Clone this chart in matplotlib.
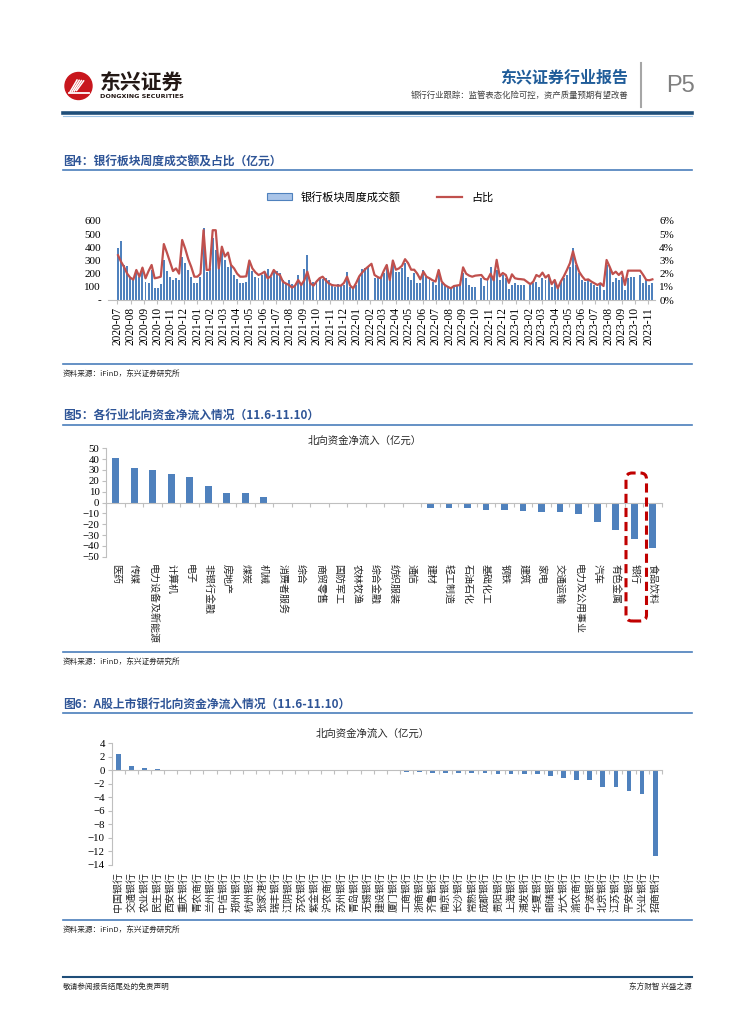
import numpy as np
import pandas as pd
import matplotlib
matplotlib.use('Agg')
import matplotlib.pyplot as plt
import matplotlib.dates as mdates
from matplotlib.patches import Patch, Circle, FancyBboxPatch
from matplotlib.lines import Line2D
from matplotlib.ticker import FuncFormatter

CJK = ['Noto Sans CJK SC', 'DejaVu Sans']
SERIF = ['Liberation Serif', 'Noto Sans CJK SC']
plt.rcParams['font.family'] = CJK

# ---------------- data ----------------
# fig 4: weekly bank-sector turnover (亿元) and share of market (%), weeks from 2020-07-03
nan = np.nan
turnover = [
    392, 448, 265, 260, 177, 152, 228, 177, 240, 139,
    132, 228, 88, 88, 119, 304, 223, 177, 152, 170,
    152, 329, 278, 228, 177, 132, 132, 177, 544, 215,
    245, 473, 380, 291, 367, 304, 253, 265, 190, 160,
    127, 127, 139, 278, 223, 177, 165, 190, 215, 235,
    177, 215, 223, 202, 152, 127, 152, 121, 106, 190,
    127, 235, 342, 152, 139, 139, 165, 157, 170, 152,
    114, 101, 121, 114, 114, 215, 101, 88, 114, 177,
    233, 245, 248, nan, 165, 165, 165, 202, 265, 152,
    291, 215, 215, 240, 278, 177, 152, 202, 127, 127,
    228, 177, 165, 140, 114, 228, 127, 114, 101, 88,
    101, 114, 114, 202, 165, 114, 101, 95, nan, 165,
    109, 152, 253, 165, 228, 152, 190, 165, 80, 114,
    127, 114, 114, 114, nan, 114, 127, 140, 101, 165,
    152, 177, 101, 152, 88, 140, 165, 190, 253, 392,
    265, 202, 152, 140, 152, 127, 114, 101, 127, 76,
    265, 240, 140, 165, 152, 177, 76, 165, 177, 177,
    nan, 190, 127, 152, 114, 127,
]
share = [
    3.4, 2.9, 2.5, 2.0, 1.7, 1.55, 2.28, 1.77, 2.46, 1.65,
    2.2, 2.66, 1.65, 1.7, 1.77, 4.25, 3.6, 2.9, 2.2, 2.4,
    2.0, 4.56, 3.9, 3.1, 2.5, 1.77, 1.77, 2.0, 5.3, 2.28,
    2.3, 5.3, 5.3, 2.4, 4.05, 3.3, 3.6, 2.66, 2.4, 2.0,
    1.77, 1.77, 1.8, 3.0, 2.4, 2.1, 1.9, 2.0, 2.15, 1.65,
    1.8, 2.28, 2.0, 1.9, 1.39, 1.25, 1.14, 0.94, 1.1, 1.52,
    1.14, 1.5, 2.15, 1.27, 1.09, 1.4, 1.65, 1.77, 1.5, 1.27,
    1.14, 1.1, 1.1, 1.09, 1.3, 1.77, 1.1, 0.89, 1.3, 1.8,
    2.1, 2.35, 2.55, 2.75, 1.9, 1.75, 1.65, 2.2, 2.66, 1.52,
    3.0, 2.3, 2.4, 2.6, 3.1, 2.8, 2.3, 2.3, 2.0, 1.57,
    2.15, 1.77, 1.65, 1.5, 1.4, 2.28, 1.4, 1.14, 1.0, 0.89,
    1.06, 1.1, 1.14, 2.48, 2.0, 1.85, 1.77, 1.85, nan, 1.9,
    1.6, 1.55, 2.0, 1.5, 3.05, 1.8, 2.05, 1.9, 1.3, 1.95,
    1.65, 1.6, 1.58, 1.55, nan, 1.2, 1.4, 1.9, 1.77, 2.08,
    1.7, 1.9, 1.2, 1.52, 0.89, 1.4, 1.8, 2.28, 2.8, 3.7,
    2.8, 2.15, 1.8, 1.52, 1.57, 1.4, 1.27, 1.14, 1.27, 1.06,
    3.04, 2.53, 1.97, 2.15, 1.9, 2.15, 1.14, 2.23, 2.23, 2.23,
    nan, 2.23, 1.9, 1.52, 1.5, 1.57,
]

# fig 5: northbound net inflow by industry (亿元)
industries = ['医药', '传媒', '电力设备及新能源', '计算机', '电子', '非银行金融', '房地产', '煤炭',
              '机械', '消费者服务', '综合', '商贸零售', '国防军工', '农林牧渔', '综合金融', '纺织服装',
              '通信', '建材', '轻工制造', '石油石化', '基础化工', '钢铁', '建筑', '家电', '交通运输',
              '电力及公用事业', '汽车', '有色金属', '银行', '食品饮料']
ind_flow = [40.6, 31.6, 30.0, 26.3, 23.8, 15.6, 9.0, 8.4, 5.0, -0.2, -0.2, -1.0, -1.0, -1.0, -1.0,
            -1.0, -0.6, -5.3, -5.3, -5.3, -6.5, -7.2, -8.1, -9.0, -9.0, -11.0, -18.0, -25.0,
            -33.8, -42.0]

# fig 6: northbound net inflow by listed bank (亿元)
banks = ['中国银行', '交通银行', '农业银行', '民生银行', '西安银行', '重庆银行', '青农商行', '兰州银行',
         '中信银行', '郑州银行', '杭州银行', '张家港行', '瑞丰银行', '江阴银行', '苏农银行', '紫金银行',
         '沪农商行', '苏州银行', '青岛银行', '无锡银行', '建设银行', '厦门银行', '工商银行', '浙商银行',
         '齐鲁银行', '南京银行', '长沙银行', '常熟银行', '成都银行', '贵阳银行', '上海银行', '浦发银行',
         '华夏银行', '邮储银行', '光大银行', '渝农商行', '宁波银行', '北京银行', '江苏银行', '平安银行',
         '兴业银行', '招商银行']
bank_flow = [2.4, 0.6, 0.4, 0.15, 0.12, -0.02, -0.03, -0.03, -0.04, -0.04, -0.05, -0.05, -0.05,
             -0.06, -0.06, -0.07, -0.08, -0.12, -0.15, -0.15, -0.15, -0.15, -0.2, -0.3, -0.35, -0.35,
             -0.35, -0.45, -0.45, -0.6, -0.6, -0.6, -0.6, -0.85, -1.1, -1.5, -1.5, -2.5, -2.5, -3.1,
             -3.45, -12.6]

# ---------------- page ----------------
W, H = 755, 1024
fig = plt.figure(figsize=(W / 100, H / 100), dpi=100)
BLUE = '#4F81BD'
TITLE_BLUE = '#2F5597'
RULE = '#4A7EBB'


def fx(x):
    return x / W


def fy(y):
    return 1 - y / H


def px_axes(x0, y0, x1, y1):
    return fig.add_axes([fx(x0), fy(y1), (x1 - x0) / W, (y1 - y0) / H])


def hline(y, x0, x1, color=RULE, lw=1.2):
    fig.add_artist(Line2D([fx(x0), fx(x1)], [fy(y), fy(y)], color=color, lw=lw))


# header
logo = px_axes(63, 70, 95, 102)
logo.set_xlim(0, 32)
logo.set_ylim(0, 32)
logo.axis('off')
logo.add_patch(Circle((15.5, 16), 13.5, color='#C8161D'))
for k in range(4):
    logo.plot([7 + 2.2 * k, 14 + 2.2 * k], [10 + k * 0.5, 22 - k * 0.3], color='white', lw=1.1)
logo.plot([6, 26], [9, 9], color='white', lw=1.3)
fig.text(fx(100), fy(82), '东兴证券', fontsize=15, fontweight='bold', color='#231815', va='center')
fig.text(fx(100), fy(97), 'DONGXING SECURITIES', fontsize=4.6, fontweight='bold', color='#231815',
         va='center', family=['DejaVu Sans'])
fig.text(fx(628), fy(77), '东兴证券行业报告', fontsize=11.5, fontweight='bold', color='#1F5C99',
         ha='right', va='center')
fig.text(fx(628), fy(95), '银行行业跟踪：监管表态化险可控，资产质量预期有望改善', fontsize=6,
         color='#404040', ha='right', va='center')
fig.add_artist(Line2D([fx(641), fx(641)], [fy(63), fy(107)], color='#A6A6A6', lw=1.5))
fig.text(fx(680), fy(86), 'P5', fontsize=17, color='#7F7F7F', ha='center', va='center',
         family=['Liberation Sans'])
hline(113, 63, 692, color='#1F4E79', lw=2.6)
hline(115.5, 63, 692, color='#9DC3E6', lw=0.8)

# section titles / rules / sources
titles = [(162, 170, '图4：银行板块周度成交额及占比（亿元）'),
          (415, 425, '图5：各行业北向资金净流入情况（11.6-11.10）'),
          (704, 713, '图6：A股上市银行北向资金净流入情况（11.6-11.10）')]
for ty, ly, t in titles:
    fig.text(fx(63), fy(ty), t, fontsize=8.5, fontweight='bold', color=TITLE_BLUE, va='center')
    hline(ly, 63, 692)
for by in (364, 652, 920):
    hline(by, 63, 692)
    fig.text(fx(63), fy(by + 10), '资料来源：iFinD，东兴证券研究所', fontsize=5.5, color='#262626',
             va='center')

# footer
hline(977, 63, 692, color='#1F4E79', lw=1.5)
fig.text(fx(63), fy(987), '敬请参阅报告结尾处的免责声明', fontsize=5.5, color='#262626', va='center')
fig.text(fx(692), fy(987), '东方财智 兴盛之源', fontsize=5.5, color='#262626', va='center', ha='right')

# ---------------- fig 4 ----------------
turnover = np.array(turnover, dtype=float)
share = np.array(share, dtype=float)
dates = pd.date_range('2020-07-03', periods=len(turnover), freq='7D')

ax4 = px_axes(108, 221, 655, 300)
ax4.bar(dates, turnover, width=4.5, color=BLUE, edgecolor='none')
ax4.set_ylim(0, 600)
ax4.set_xlim(pd.Timestamp('2020-06-10'), pd.Timestamp('2023-11-16'))
ax4.set_yticks(range(0, 601, 100))
ax4.yaxis.set_major_formatter(FuncFormatter(lambda v, p: '-' if v == 0 else f'{v:.0f}'))
ax4.xaxis.set_major_locator(mdates.MonthLocator())
ax4.xaxis.set_major_formatter(mdates.DateFormatter('%Y-%m'))
for s in ('top', 'right', 'left'):
    ax4.spines[s].set_visible(False)
ax4.spines['bottom'].set_color('#BFBFBF')
ax4.tick_params(axis='y', length=0, pad=5, labelsize=8)
ax4.tick_params(axis='x', length=3, color='#BFBFBF', labelsize=8.3, rotation=90, pad=2)
for lab in ax4.get_xticklabels() + ax4.get_yticklabels():
    lab.set_family(SERIF)

ax4r = ax4.twinx()
ok = ~np.isnan(share)
ax4r.plot(dates[ok], share[ok], color='#C0504D', lw=1.6)
ax4r.set_ylim(0, 6)
ax4r.set_yticks(range(0, 7))
ax4r.yaxis.set_major_formatter(FuncFormatter(lambda v, p: f'{v:.0f}%'))
ax4r.tick_params(axis='y', length=0, pad=3, labelsize=8)
for s in ax4r.spines.values():
    s.set_visible(False)
for lab in ax4r.get_yticklabels():
    lab.set_family(SERIF)

handles = [Patch(facecolor='#A9C4E8', edgecolor=BLUE, lw=0.8), Line2D([], [], color='#C0504D', lw=1.6)]
fig.legend(handles, ['银行板块周度成交额', '占比'], loc='center', bbox_to_anchor=(fx(380), fy(197)),
           ncol=2, frameon=False, fontsize=8, handlelength=2.3, handleheight=0.6, columnspacing=3.2)


# ---------------- fig 5 & 6 ----------------
def flow_chart(box, cats, vals, ylim, step, rot, title_xy, fs):
    ax = px_axes(*box)
    x = np.arange(len(cats))
    ax.bar(x, vals, width=0.36, color=BLUE)
    ax.set_xlim(-0.5, len(cats) - 0.5)
    ax.set_ylim(*ylim)
    ax.set_yticks(np.arange(ylim[0], ylim[1] + step / 2, step))
    for s in ('top', 'right'):
        ax.spines[s].set_visible(False)
    ax.spines['left'].set_color('#BFBFBF')
    ax.spines['bottom'].set_position(('data', 0))
    ax.spines['bottom'].set_color('#BFBFBF')
    ax.set_xticks(np.arange(-0.5, len(cats), 1))
    ax.set_xticklabels([])
    ax.tick_params(axis='x', length=3, color='#BFBFBF', direction='out')
    ax.tick_params(axis='y', length=3, color='#BFBFBF', labelsize=7.8, pad=2)
    for lab in ax.get_yticklabels():
        lab.set_family(SERIF)
    for i, c in enumerate(cats):
        ax.annotate(c, (i, ylim[0]), xytext=(0, -5), textcoords='offset points', rotation=rot,
                    ha='center', va='top', fontsize=fs, annotation_clip=False, color='#262626')
    fig.text(fx(title_xy[0]), fy(title_xy[1]), '北向资金净流入（亿元）', fontsize=7.5, ha='center',
             va='center', color='#262626')
    return ax


ax5 = flow_chart((106.4, 448.3, 662, 556.7), industries, ind_flow, (-50, 50), 10, -90, (365, 441), 7.2)
ax6 = flow_chart((111.8, 743.3, 661.7, 865), banks, bank_flow, (-14, 4), 2, 90, (373, 734), 7.2)

# red dashed highlight around 银行
fig.add_artist(FancyBboxPatch((fx(626), fy(621)), fx(646.5) - fx(626), fy(473) - fy(621),
                              boxstyle='round,pad=0,rounding_size=0.008', mutation_aspect=W / H,
                              transform=fig.transFigure, fill=False, edgecolor='#C00000', lw=2.2,
                              linestyle=(0, (3, 1.6))))

fig.savefig('out.png', dpi=100)
